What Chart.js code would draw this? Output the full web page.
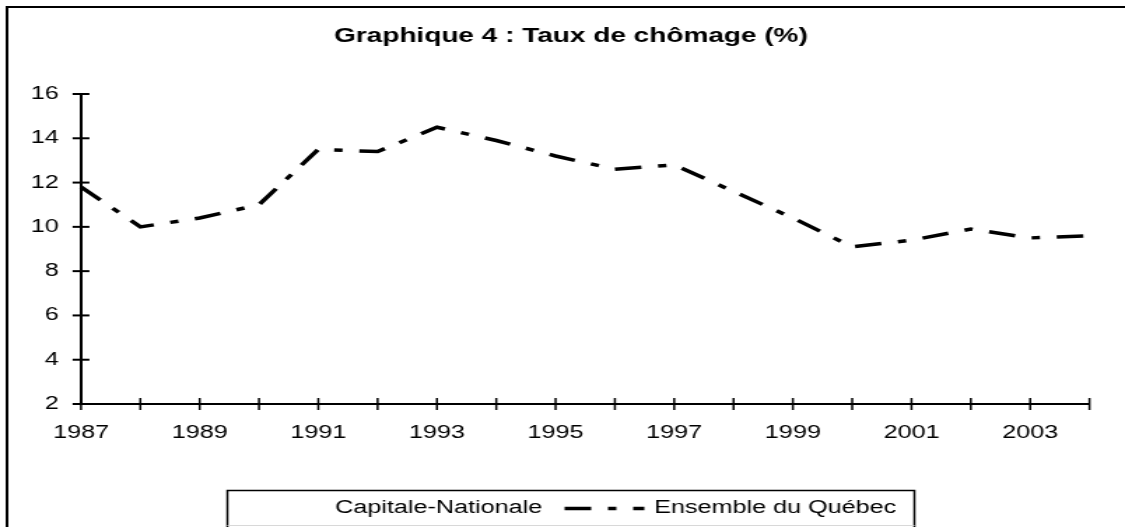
<!DOCTYPE html>
<html>
<head>
<meta charset="utf-8">
<title>Graphique 4 : Taux de chômage (%)</title>
<script src="https://cdn.jsdelivr.net/npm/chart.js@4/dist/chart.umd.min.js"></script>
<style>
  html, body { margin: 0; padding: 0; background: #fff; overflow: hidden; }
</style>
</head>
<body>
<!-- the source picture is stretched sideways, so the canvas is drawn narrow and widened by CSS -->
<canvas id="tauxChart" width="804" height="527" style="width:1125px;height:527px"></canvas>
<script>
const annees = ['1987', '1988', '1989', '1990', '1991', '1992', '1993', '1994', '1995',
  '1996', '1997', '1998', '1999', '2000', '2001', '2002', '2003', '2004'];
const ensembleQuebec = [11.8, 10.0, 10.4, 11.0, 13.5, 13.4, 14.5, 13.9, 13.2,
  12.6, 12.8, 11.6, 10.4, 9.1, 9.4, 9.9, 9.5, 9.6];
// the Capitale-Nationale line does not show in the reference (white line)
const capitaleNationale = [];
const yMin = 2;
const yMax = 16;
const yStep = 2;

const FONT = "'Liberation Sans', Arial, sans-serif";

// white background + the frame lines (top and left only are visible)
const frame = {
  id: 'frame',
  beforeDraw(chart) {
    const { ctx, width, height } = chart;
    ctx.save();
    ctx.fillStyle = '#fff';
    ctx.fillRect(0, 0, width, height);
    ctx.strokeStyle = '#000';
    ctx.lineWidth = 2;
    ctx.beginPath();
    ctx.moveTo(width, 7);
    ctx.lineTo(5, 7);
    ctx.lineTo(5, height);
    ctx.stroke();
    ctx.restore();
  }
};

// tick marks that cross the axes, like the original
const crossTicks = {
  id: 'crossTicks',
  afterDraw(chart) {
    const { ctx, scales: { x, y } } = chart;
    ctx.save();
    ctx.strokeStyle = '#000';
    ctx.lineWidth = 2;
    y.ticks.forEach((t, i) => {
      const py = y.getPixelForTick(i);
      ctx.beginPath();
      ctx.moveTo(x.left - 6, py);
      ctx.lineTo(x.left + 6, py);
      ctx.stroke();
    });
    ctx.lineWidth = 1.5;
    x.ticks.forEach((t, i) => {
      const px = x.getPixelForTick(i);
      ctx.beginPath();
      ctx.moveTo(px, y.bottom - 6);
      ctx.lineTo(px, y.bottom + 6);
      ctx.stroke();
    });
    ctx.restore();
  }
};

// boxed legend at the bottom, built from the datasets
const legendBox = {
  id: 'legendBox',
  afterDraw(chart) {
    const ctx = chart.ctx;
    const sampleW = 57, gapText = 7, gapItem = 16;
    const cy = 508.5;
    const centre = chart.width / 2 + 6;
    ctx.save();
    ctx.font = `18px ${FONT}`;
    const items = chart.data.datasets.map(ds => ({ ds, w: ctx.measureText(ds.label).width }));
    const total = items.reduce((s, it) => s + sampleW + gapText + it.w, 0) + gapItem * (items.length - 1);
    const boxLeft = centre - 245.5;
    const boxRight = centre + 245.5;

    ctx.fillStyle = '#fff';
    ctx.fillRect(boxLeft, 490, boxRight - boxLeft, 36);
    ctx.strokeStyle = '#000';
    ctx.lineWidth = 1.5;
    ctx.beginPath();
    ctx.moveTo(boxLeft, 527);
    ctx.lineTo(boxLeft, 490.5);
    ctx.lineTo(boxRight, 490.5);
    ctx.lineTo(boxRight, 527);
    ctx.stroke();
    ctx.strokeStyle = '#d8d8d8';
    ctx.lineWidth = 1;
    ctx.beginPath();
    ctx.moveTo(boxLeft, 525.5);
    ctx.lineTo(boxRight, 525.5);
    ctx.stroke();

    let x = centre - total / 2;
    items.forEach(({ ds, w }) => {
      ctx.strokeStyle = ds.borderColor;
      ctx.lineWidth = ds.borderWidth;
      ctx.setLineDash(ds.borderDash || []);
      ctx.beginPath();
      ctx.moveTo(x, cy);
      ctx.lineTo(x + sampleW, cy);
      ctx.stroke();
      ctx.setLineDash([]);
      x += sampleW + gapText;
      ctx.fillStyle = '#000';
      ctx.textBaseline = 'middle';
      ctx.textAlign = 'left';
      ctx.fillText(ds.label, x, cy);
      x += w + gapItem;
    });
    ctx.restore();
  }
};

new Chart(document.getElementById('tauxChart'), {
  type: 'line',
  data: {
    labels: annees,
    datasets: [
      {
        label: 'Capitale-Nationale',
        data: capitaleNationale,
        borderColor: '#ffffff',
        borderWidth: 3.5,
        pointRadius: 0
      },
      {
        label: 'Ensemble du Québec',
        data: ensembleQuebec,
        borderColor: '#000000',
        borderWidth: 3.5,
        borderDash: [19, 12, 6, 12],
        borderCapStyle: 'butt',
        pointRadius: 0,
        tension: 0
      }
    ]
  },
  options: {
    responsive: false,
    animation: false,
    devicePixelRatio: 1,
    layout: { padding: { top: 0, right: 0, bottom: 0, left: 12 } },
    plugins: {
      legend: { display: false },
      tooltip: { enabled: false },
      title: {
        display: true,
        text: 'Graphique 4 : Taux de chômage (%)',
        color: '#000',
        font: { family: FONT, size: 20, weight: 'bold' },
        padding: { top: 24, bottom: 46 }
      }
    },
    scales: {
      x: {
        type: 'category',
        offset: false,
        grid: { display: false, drawTicks: false },
        border: { display: true, color: '#000', width: 2 },
        ticks: {
          autoSkip: false,
          maxRotation: 0,
          color: '#000',
          padding: 18,
          font: { family: FONT, size: 18 },
          callback: (v, i) => (i % 2 === 0 ? annees[i] : '')
        },
        afterFit: scale => {
          scale.height = 123;
          scale.paddingRight = 25.4;
        }
      },
      y: {
        min: yMin,
        max: yMax,
        grid: { display: false, drawTicks: false },
        border: { display: true, color: '#000', width: 2 },
        ticks: {
          stepSize: yStep,
          color: '#000',
          padding: 16,
          font: { family: FONT, size: 18 }
        },
        afterFit: scale => { scale.width = 45.9; }
      }
    }
  },
  plugins: [frame, crossTicks, legendBox]
});
</script>
</body>
</html>
